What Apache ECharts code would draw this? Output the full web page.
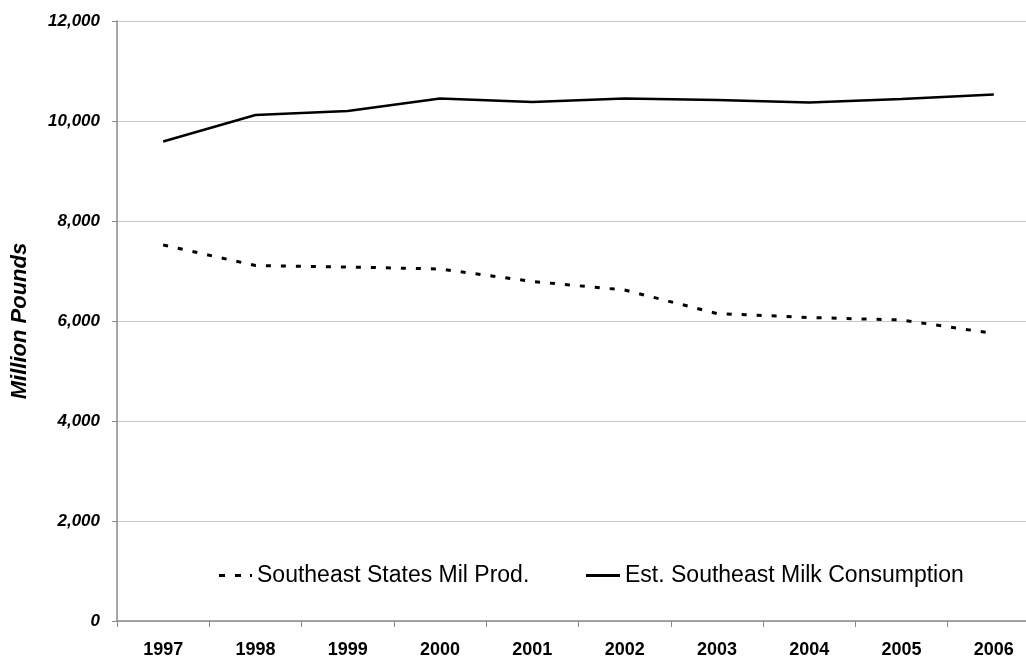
<!DOCTYPE html>
<html>
<head>
<meta charset="utf-8">
<script src="https://cdn.jsdelivr.net/npm/echarts@6/dist/echarts.min.js"></script>
<style>html,body{margin:0;padding:0;background:#fff}#c{width:1026px;height:658px}</style>
</head>
<body>
<div id="c"></div>
<script>
var years = ['1997','1998','1999','2000','2001','2002','2003','2004','2005','2006'];
var production = [7520, 7110, 7080, 7040, 6790, 6620, 6150, 6070, 6020, 5750];
var consumption = [9590, 10120, 10200, 10450, 10380, 10450, 10420, 10370, 10440, 10530];
var yTicks = [0, 2000, 4000, 6000, 8000, 10000, 12000];
var prodName = 'Southeast States Mil Prod.';
var consName = 'Est. Southeast Milk Consumption';

var FONT = '"Liberation Sans", Arial, sans-serif';
var dashIcon = 'path://M0,0h6v3h-6z M16,0h6v3h-6z M31,0h2v3h-2z';
var solidIcon = 'path://M0,0h34v3h-34z';
var legendText = { fontFamily: FONT, fontSize: 23, color: '#000' };

var chart = echarts.init(document.getElementById('c'));
chart.setOption({
  animation: false,
  backgroundColor: '#fff',
  grid: { left: 117, top: 21, width: 923, bottom: 37, containLabel: false, outerBoundsMode: 'none' },
  legend: [
    { data: [{ name: prodName, icon: dashIcon }], left: 219, top: 564, itemWidth: 33, itemHeight: 3, itemGap: 6,
      symbolKeepAspect: false, textStyle: legendText, padding: 0 },
    { data: [{ name: consName, icon: solidIcon }], left: 586, top: 564, itemWidth: 34, itemHeight: 3, itemGap: 6,
      symbolKeepAspect: false, textStyle: legendText, padding: 0 }
  ],
  xAxis: {
    type: 'category', data: years, boundaryGap: true,
    axisLine: { lineStyle: { color: '#8a8a8a', width: 1.5 } },
    axisTick: { show: true, length: 6, lineStyle: { color: '#8a8a8a' } },
    axisLabel: { margin: 20, fontFamily: FONT, fontSize: 18, fontWeight: 'bold', color: '#000' }
  },
  yAxis: {
    type: 'value', min: yTicks[0], max: yTicks[yTicks.length - 1], interval: 2000,
    name: 'Million Pounds', nameLocation: 'middle', nameGap: 86, nameRotate: 90,
    nameTextStyle: { fontFamily: FONT, fontSize: 22, fontWeight: 'bold', fontStyle: 'italic', color: '#000' },
    axisLine: { show: true, lineStyle: { color: '#8a8a8a', width: 1.5 } },
    axisTick: { show: true, length: 5, lineStyle: { color: '#8a8a8a' } },
    splitLine: { lineStyle: { color: '#c8c8c8', width: 1.2 } },
    axisLabel: {
      margin: 17, fontFamily: FONT, fontSize: 17, fontWeight: 'bold', fontStyle: 'italic', color: '#000',
      formatter: function (v) { return v.toLocaleString('en-US'); }
    }
  },
  series: [
    { name: prodName, type: 'line', data: production, symbol: 'none',
      itemStyle: { color: '#000' },
      lineStyle: { color: '#000', width: 3, type: [5, 10] } },
    { name: consName, type: 'line', data: consumption, symbol: 'none',
      itemStyle: { color: '#000' },
      lineStyle: { color: '#000', width: 2.5 } }
  ]
});
</script>
</body>
</html>
